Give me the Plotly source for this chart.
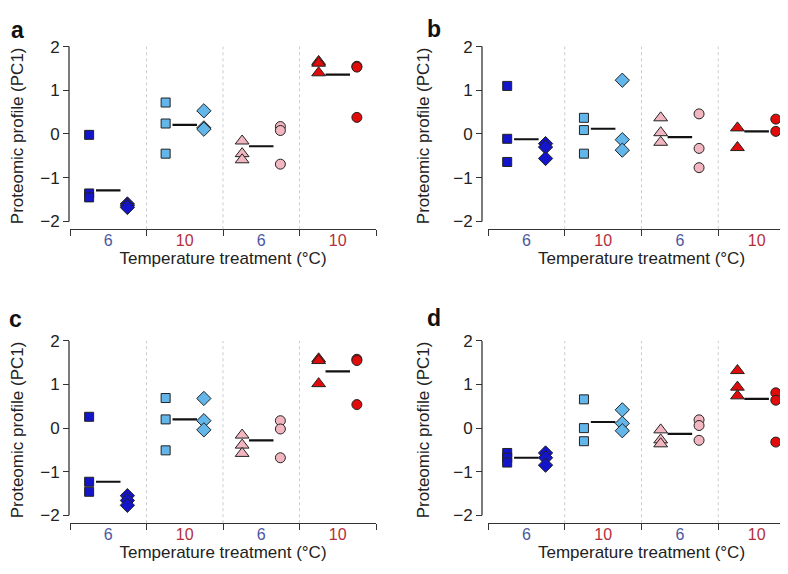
import plotly.graph_objects as go

# Temperature groups along the x axis
categorias = ["6", "10", "6", "10"]
color_etiqueta = ["#4b57a3", "#b52e3b", "#4b57a3", "#b52e3b"]

# Marker fill per group and symbols (left / right column in each group)
color_grupo = ["#1414c8", "#62b6ea", "#f2b6c0", "#e00b0b"]
simbolo_izq = ["square", "square", "triangle-up", "triangle-up"]
simbolo_der = ["diamond", "diamond", "circle", "circle"]

# Panel a
a_left = [[-0.02, -1.36, -1.45], [0.72, 0.24, -0.45], [-0.16, -0.45, -0.59], [1.66, 1.62, 1.40]]
a_right = [[-1.60, -1.64, -1.68], [0.53, 0.14, 0.11], [0.17, 0.08, -0.69], [1.55, 1.53, 0.38]]
a_mean = [-1.29, 0.21, -0.28, 1.36]

# Panel b
b_left = [[1.10, -0.11, -0.64], [0.37, 0.09, -0.45], [0.37, 0.03, -0.19], [0.14, -0.31]]
b_right = [[-0.22, -0.30, -0.56], [1.23, -0.13, -0.37], [0.46, -0.33, -0.77], [0.34, 0.06]]
b_mean = [-0.12, 0.12, -0.07, 0.06]

# Panel c
c_left = [[0.26, -1.23, -1.46], [0.69, 0.20, -0.51], [-0.16, -0.39, -0.58], [1.59, 1.55, 1.02]]
c_right = [[-1.55, -1.66, -1.77], [0.68, 0.17, -0.04], [0.17, -0.02, -0.68], [1.58, 1.55, 0.54]]
c_mean = [-1.23, 0.20, -0.28, 1.30]

# Panel d
d_left = [[-0.57, -0.68, -0.79], [0.66, 0.00, -0.30], [-0.04, -0.27, -0.36], [1.32, 0.94, 0.74]]
d_right = [[-0.57, -0.68, -0.85], [0.42, 0.11, -0.06], [0.19, 0.06, -0.28], [0.81, 0.64, -0.32]]
d_mean = [-0.68, 0.14, -0.13, 0.67]

paneles = [
    ("a", a_left, a_right, a_mean),
    ("b", b_left, b_right, b_mean),
    ("c", c_left, c_right, c_mean),
    ("d", d_left, d_right, d_mean),
]

W, H = 788, 574
FUENTE = "Liberation Sans, Arial, Helvetica, sans-serif"
Y_MIN, Y_MAX = -2.181, 2.097

# pixel layout of each panel: x-axis start/end, y-axis line x, top and bottom of plot
geo = {
    "a": dict(x0=62, x1=368, yax=61, top=29.7, bot=219.0, lx=9, ly=17),
    "b": dict(x0=480, x1=787, yax=474, top=29.7, bot=219.0, lx=426, ly=16),
    "c": dict(x0=62, x1=368, yax=61, top=327.7, bot=516.5, lx=7, ly=310),
    "d": dict(x0=480, x1=787, yax=474, top=327.7, bot=516.5, lx=426, ly=309),
}

fig = go.Figure()
shapes = []
annotations = []

for i, (letra, izq, der, medias) in enumerate(paneles):
    n = "" if i == 0 else str(i + 1)
    xa, ya = "x" + n, "y" + n
    g = geo[letra]

    for k in range(4):
        # mean line
        fig.add_trace(go.Scatter(
            x=[k + 0.34, k + 0.66], y=[medias[k], medias[k]],
            mode="lines", line=dict(color="#111111", width=2.2),
            xaxis=xa, yaxis=ya, hoverinfo="skip"
        ))
        fig.add_trace(go.Scatter(
            x=[k + 0.25] * len(izq[k]), y=izq[k], mode="markers",
            marker=dict(symbol=simbolo_izq[k], color=color_grupo[k],
                        size=12 if simbolo_izq[k] == "triangle-up" else 9,
                        line=dict(color="#222222", width=1)),
            xaxis=xa, yaxis=ya
        ))
        fig.add_trace(go.Scatter(
            x=[k + 0.75] * len(der[k]), y=der[k], mode="markers",
            marker=dict(symbol=simbolo_der[k], color=color_grupo[k],
                        size=11 if simbolo_der[k] == "diamond" else 10,
                        line=dict(color="#222222", width=1)),
            xaxis=xa, yaxis=ya
        ))

    # dotted group separators
    for s in [1, 2, 3]:
        shapes.append(dict(type="line", xref=xa, yref=ya, x0=s, x1=s, y0=Y_MIN, y1=2.0,
                           line=dict(color="#cccccc", width=1, dash="dot")))
    # y axis line only from -2 to 2
    shapes.append(dict(type="line", xref="paper", yref=ya, x0=g["yax"] / W, x1=g["yax"] / W,
                       y0=-2, y1=2, line=dict(color="#333333", width=1.3)))

    fig.layout["xaxis" + n] = dict(
        domain=[g["x0"] / W, g["x1"] / W], range=[0, 4], anchor=ya,
        showline=True, linecolor="#333333", linewidth=1.3, showgrid=False, zeroline=False,
        tickvals=[0.5, 1.5, 2.5, 3.5],
        ticktext=["<span style='color:%s'>%s</span>" % (c, t) for c, t in zip(color_etiqueta, categorias)],
        ticks="", tickfont=dict(size=16, family=FUENTE),
        minor=dict(tickmode="array", tickvals=[0, 1, 2, 3, 4], ticks="outside", ticklen=6,
                   tickwidth=1.3, tickcolor="#333333", showgrid=False),
        ticklabelstandoff=-4,
        title=dict(text="Temperature treatment (°C)", font=dict(size=17, family=FUENTE, color="#222222"),
                   standoff=4),
    )
    fig.layout["yaxis" + n] = dict(
        domain=[1 - g["bot"] / H, 1 - g["top"] / H], range=[Y_MIN, Y_MAX],
        anchor="free", position=g["yax"] / W,
        showline=False, showgrid=False, zeroline=False,
        tickvals=[-2, -1, 0, 1, 2], ticks="outside", ticklen=6, tickwidth=1.3, tickcolor="#333333",
        tickfont=dict(size=17, family=FUENTE, color="#222222"),
        title=dict(text="Proteomic profile (PC1)", font=dict(size=17, family=FUENTE, color="#222222"),
                   standoff=18),
    )

    annotations.append(dict(text="<b>%s</b>" % letra, xref="paper", yref="paper",
                            x=g["lx"] / W, y=1 - g["ly"] / H, showarrow=False,
                            xanchor="center", yanchor="middle",
                            font=dict(size=23, family=FUENTE, color="#111111")))

fig.update_layout(
    width=W, height=H, margin=dict(l=0, r=0, t=0, b=0),
    paper_bgcolor="white", plot_bgcolor="white",
    showlegend=False, shapes=shapes, annotations=annotations,
    font=dict(family=FUENTE, color="#222222"),
)

fig.write_html("out.html")
